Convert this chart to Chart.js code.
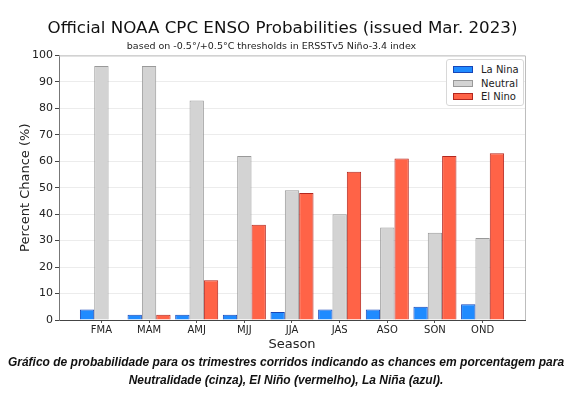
<!DOCTYPE html>
<html>
<head>
<meta charset="utf-8">
<script src="https://cdn.jsdelivr.net/npm/chart.js@4.4.0/dist/chart.umd.min.js"></script>
<style>
  html, body { margin: 0; padding: 0; background: #fff; }
  #wrap { position: relative; width: 572px; height: 396px; }
  #c { position: absolute; left: 0; top: 0; }
  #legend {
    position: absolute; left: 446px; top: 59px; width: 78px; height: 47px;
    border: 1px solid #d8d8d8; border-radius: 3px; background: #fff;
    font-family: "DejaVu Sans", sans-serif; font-size: 10px; color: #222;
    box-sizing: border-box;
  }
  .row { position: absolute; left: 6px; height: 12px; line-height: 12px; white-space: nowrap; }
  .sw { position: absolute; left: 0; top: 2px; width: 20px; height: 7px; box-sizing: border-box; border: 1px solid; }
  .lab { position: absolute; left: 28px; top: 0; }
  #caption {
    position: absolute; left: 0; top: 354px; width: 572px; text-align: center;
    font-family: "Liberation Sans", Arial, sans-serif; font-style: italic; font-weight: bold;
    font-size: 12px; line-height: 17.5px; color: #111;
  }
</style>
</head>
<body>
<div id="wrap">
  <canvas id="c" width="572" height="396"></canvas>
  <div id="legend"></div>
  <div id="caption">Gráfico de probabilidade para os trimestres corridos indicando as chances em porcentagem para<br>Neutralidade (cinza), El Niño (vermelho), La Niña (azul).</div>
</div>
<script>
const seasons = ["FMA", "MAM", "AMJ", "MJJ", "JJA", "JAS", "ASO", "SON", "OND"];
const laNina  = [4, 2, 2, 2, 3, 4, 4, 5, 6];
const neutral = [96, 96, 83, 62, 49, 40, 35, 33, 31];
const elNino  = [0, 2, 15, 36, 48, 56, 61, 62, 63];
const yTicks  = [0, 10, 20, 30, 40, 50, 60, 70, 80, 90, 100];

const seriesNames = ["La Nina", "Neutral", "El Nino"];
const fills   = ["#1f8bff", "#d3d3d3", "#ff6347"];
const borders = ["#1646b8", "#999999", "#b3261e"];
const series  = [laNina, neutral, elNino];

const toPoints = arr => arr.map((v, i) => ({ x: i, y: v }));

// HTML legend
const leg = document.getElementById('legend');
seriesNames.forEach((n, i) => {
  const r = document.createElement('div');
  r.className = 'row';
  r.style.top = (4 + i * 13.5) + 'px';
  r.innerHTML = '<span class="sw" style="background:' + fills[i] + ';border-color:' + borders[i] + '"></span><span class="lab">' + n + '</span>';
  leg.appendChild(r);
});

const framePlugin = {
  id: 'frame',
  afterLayout(chart) {
    // centre the main title over the figure rather than the padded box
    if (chart.titleBlock) { chart.titleBlock.left += 11; chart.titleBlock.right += 11; }
  },
  afterDraw(chart) {
    const { ctx, chartArea: a } = chart;
    ctx.save();
    ctx.strokeStyle = '#bdbdbd';
    ctx.lineWidth = 1;
    ctx.beginPath();
    ctx.moveTo(a.left, a.top + 0.5);
    ctx.lineTo(a.right + 0.5, a.top + 0.5);
    ctx.lineTo(a.right + 0.5, a.bottom);
    ctx.stroke();
    ctx.restore();
  }
};

new Chart(document.getElementById('c'), {
  type: 'bar',
  data: {
    datasets: series.map((s, i) => ({
      label: seriesNames[i],
      data: toPoints(s),
      backgroundColor: fills[i],
      borderColor: borders[i],
      borderWidth: 1,
      categoryPercentage: 0.903,
      barPercentage: 1.0
    }))
  },
  options: {
    responsive: false,
    animation: false,
    devicePixelRatio: 1,
    layout: { padding: { left: 18, right: 47, top: 0, bottom: 44 } },
    plugins: {
      legend: { display: false },
      tooltip: { enabled: false },
      title: {
        display: true,
        text: "Official NOAA CPC ENSO Probabilities (issued Mar. 2023)",
        font: { family: "DejaVu Sans", size: 16.7, weight: 'normal', lineHeight: 1.2 },
        color: '#111',
        padding: { top: 19, bottom: 0 }
      },
      subtitle: {
        display: true,
        text: "based on -0.5°/+0.5°C thresholds in ERSSTv5 Niño-3.4 index",
        font: { family: "DejaVu Sans", size: 9.5, weight: 'normal', lineHeight: 1.2 },
        color: '#222',
        padding: { top: 2, bottom: 3 }
      }
    },
    scales: {
      x: {
        type: 'linear',
        min: -0.89,
        max: 8.89,
        offset: false,
        afterBuildTicks: axis => { axis.ticks = seasons.map((s, i) => ({ value: i })); },
        afterFit: scale => { scale.height = 32; },
        grid: { display: true, drawOnChartArea: false, drawTicks: true, tickLength: 3, tickColor: '#555', offset: false },
        border: { display: true, color: '#444', width: 1 },
        ticks: {
          autoSkip: false, maxRotation: 0, padding: 1,
          font: { family: "DejaVu Sans", size: 10 }, color: '#222',
          callback: v => seasons[v] !== undefined ? seasons[v] : ''
        },
        title: {
          display: true, text: 'Season',
          font: { family: "DejaVu Sans", size: 13 }, color: '#222',
          padding: { top: 1, bottom: 0 }
        }
      },
      y: {
        min: 0, max: 100,
        afterBuildTicks: axis => { axis.ticks = yTicks.map(v => ({ value: v })); },
        afterFit: scale => { scale.width = 41; },
        grid: { color: '#ececec', tickColor: '#444', tickLength: 4, drawTicks: true },
        border: { display: true, color: '#777', width: 1 },
        ticks: {
          padding: 2,
          font: { family: "DejaVu Sans", size: 11 }, color: '#222'
        },
        title: {
          display: true, text: 'Percent Chance (%)',
          font: { family: "DejaVu Sans", size: 13 }, color: '#222',
          padding: { top: 0, bottom: 2 }
        }
      }
    }
  },
  plugins: [framePlugin]
});
</script>
</body>
</html>
